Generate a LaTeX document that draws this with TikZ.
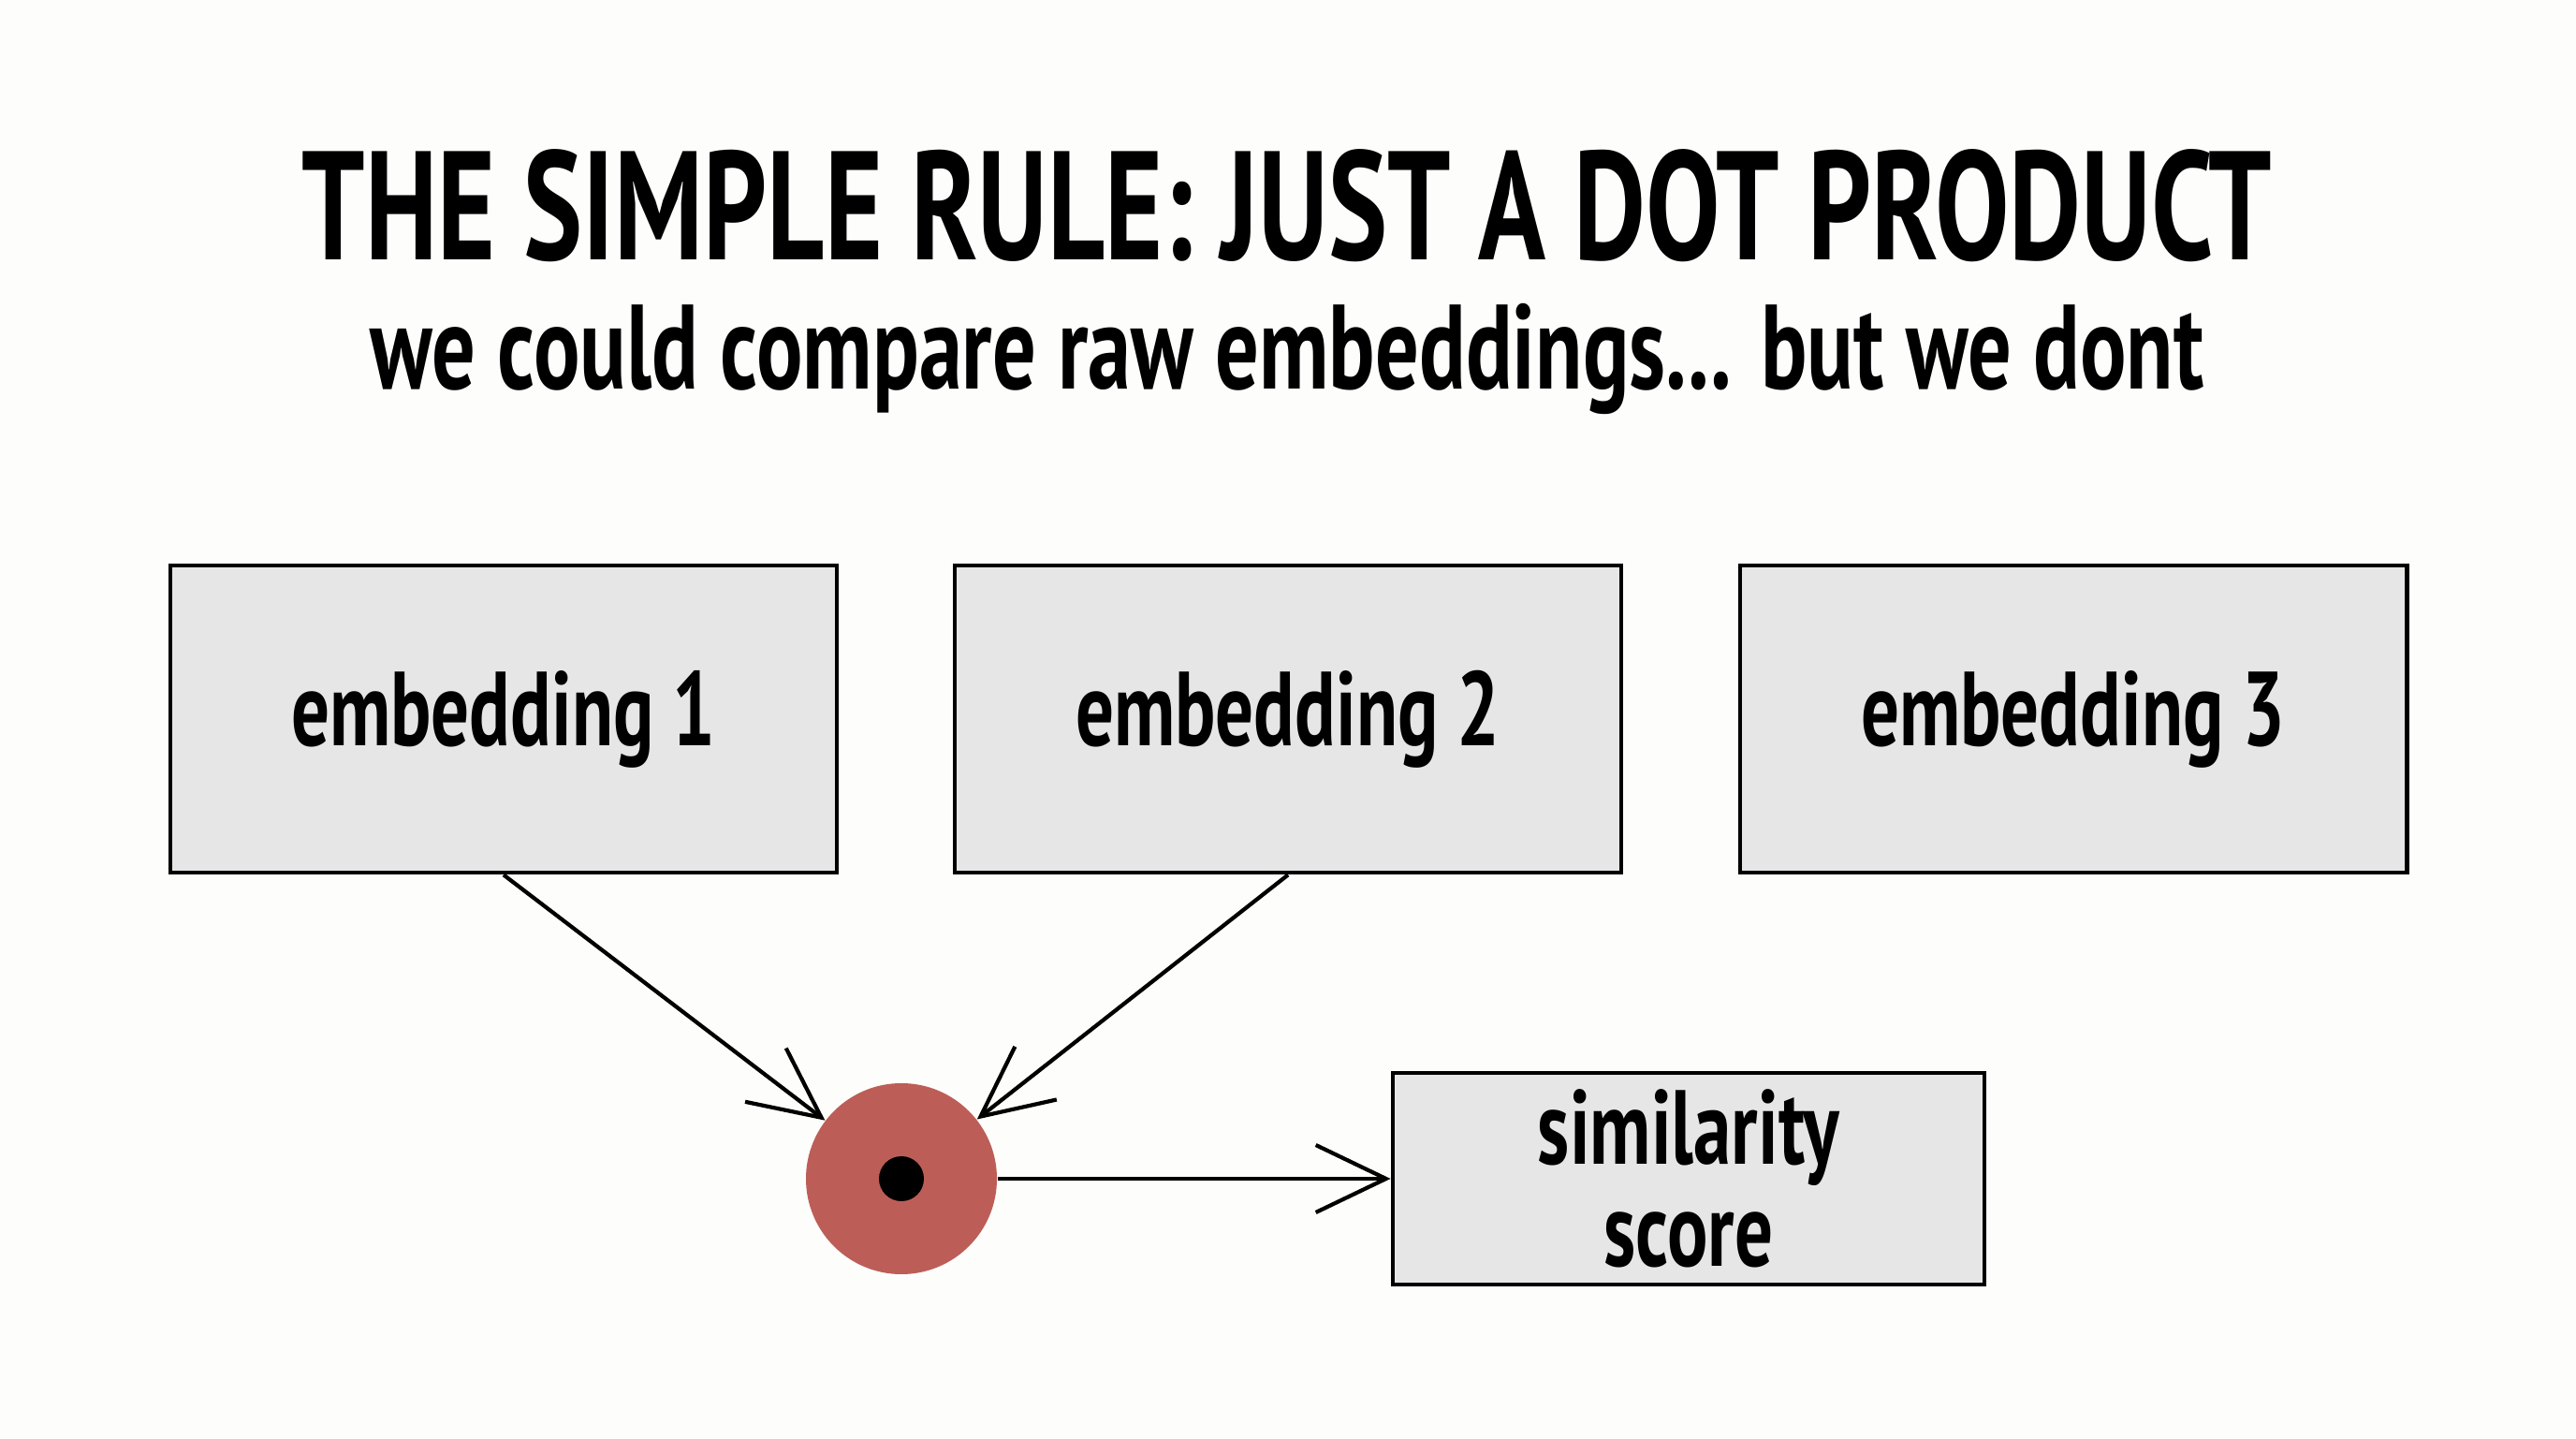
\documentclass[tikz,border=0pt]{standalone}
\usepackage{fontspec}
\usetikzlibrary{arrows.meta}
\newfontfamily\handfont[FakeStretch=0.72]{PT Sans}
\definecolor{paper}{HTML}{FDFDFC}
\definecolor{boxgray}{HTML}{E6E6E6}
\definecolor{dotred}{HTML}{BC5E57}
\begin{document}
\begin{tikzpicture}[
  embbox/.style={draw=black,line width=1.4pt,fill=boxgray,minimum width=7.12cm,minimum height=3.28cm,
    font=\handfont\bfseries\fontsize{32}{34}\selectfont},
  flow/.style={line width=1.2pt,-{Straight Barb[length=0.75cm,width=0.72cm,line width=1.2pt]}}
]
\useasboundingbox[fill=paper] (0,0) rectangle (27.52,15.36);

\node[inner sep=0pt,font=\handfont\bfseries\fontsize{47}{50}\selectfont] (title) at (13.75,13.16) {THE SIMPLE RULE: JUST A DOT PRODUCT};
\node[inner sep=0pt,font=\handfont\bfseries\fontsize{36.5}{40}\selectfont] (subtitle) at (13.75,11.52) {we could compare raw embeddings... but we dont};

\node[embbox] (emb1) at (5.38,7.68) {embedding 1};
\node[embbox] (emb2) at (13.76,7.68) {embedding 2};
\node[embbox] (emb3) at (22.15,7.68) {embedding 3};

\node[circle,fill=dotred,minimum size=2.04cm,inner sep=0pt] (dot) at (9.63,2.77) {};
\fill (dot.center) circle (0.24);

\node[embbox,minimum width=6.32cm,minimum height=2.26cm,align=center,
  font=\handfont\bfseries\fontsize{32}{31}\selectfont] (score) at (18.04,2.77) {similarity\\score};

\draw[flow] (emb1.south) -- (dot);
\draw[flow] (emb2.south) -- (dot);
\draw[flow] (dot) -- (score);
\end{tikzpicture}
\end{document}
